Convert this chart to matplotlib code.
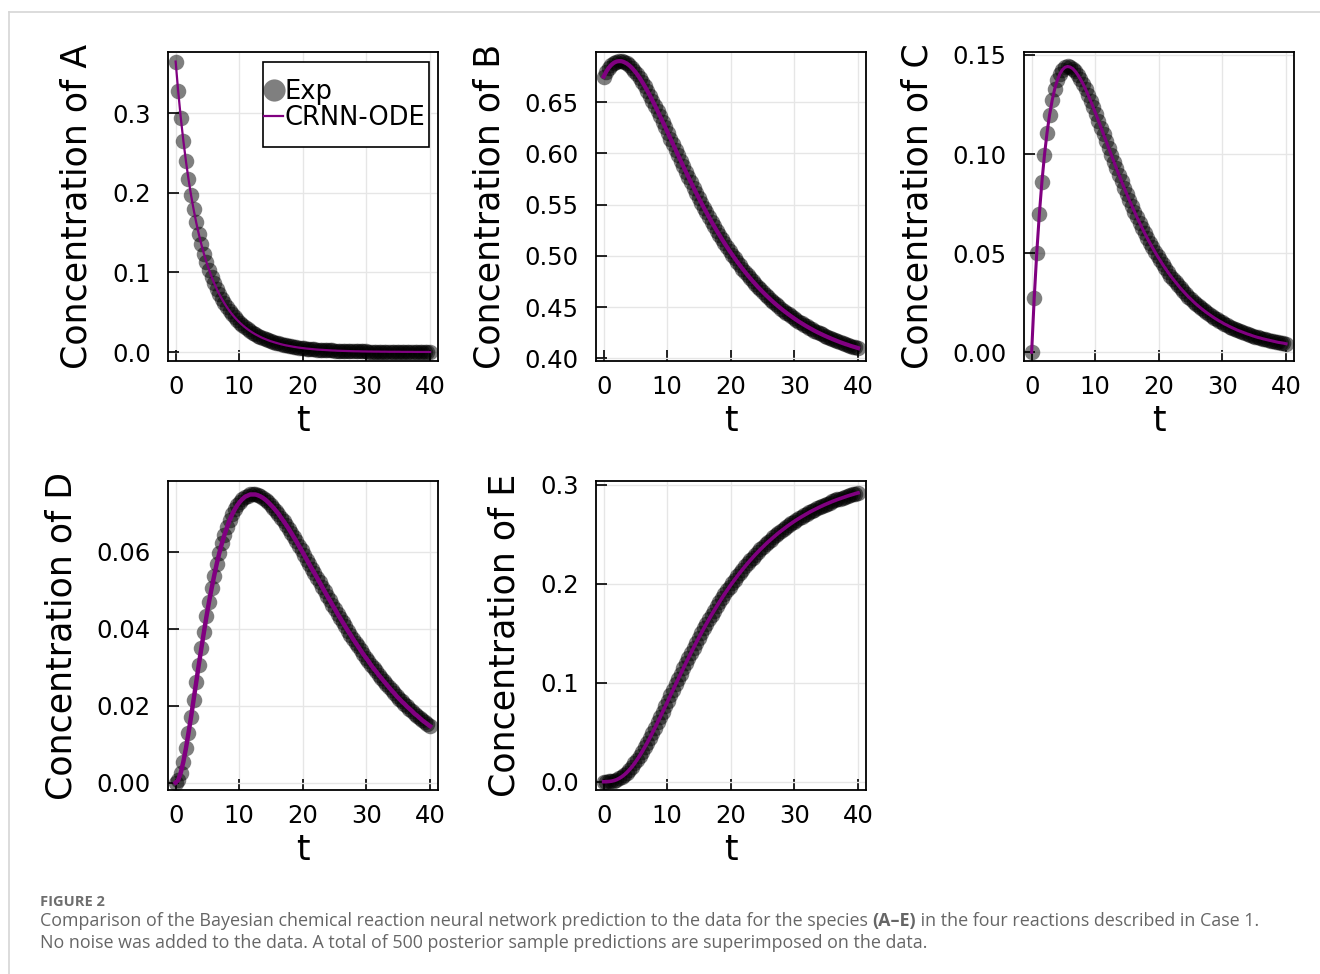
import numpy as np
import matplotlib
matplotlib.use("Agg")
import matplotlib.pyplot as plt
from matplotlib.lines import Line2D
from matplotlib.patches import Rectangle
from matplotlib.ticker import FormatStrFormatter

# sampling times (100 evenly spaced points on 0..40)
t = np.linspace(0, 40, 100)

conc_A = [0.3650, 0.3274, 0.2945, 0.2656, 0.2400, 0.2173, 0.1971, 0.1791, 0.1629, 0.1484,
          0.1353, 0.1235, 0.1128, 0.1032, 0.0944, 0.0864, 0.0792, 0.0726, 0.0666, 0.0611,
          0.0561, 0.0515, 0.0473, 0.0435, 0.0400, 0.0368, 0.0338, 0.0311, 0.0286, 0.0263,
          0.0242, 0.0223, 0.0206, 0.0189, 0.0174, 0.0161, 0.0148, 0.0136, 0.0126, 0.0116,
          0.0107, 0.0098, 0.0090, 0.0083, 0.0077, 0.0071, 0.0065, 0.0060, 0.0055, 0.0051,
          0.0047, 0.0043, 0.0040, 0.0037, 0.0034, 0.0031, 0.0029, 0.0027, 0.0025, 0.0023,
          0.0021, 0.0019, 0.0018, 0.0016, 0.0015, 0.0014, 0.0013, 0.0012, 0.0011, 0.0010,
          0.0009, 0.0009, 0.0008, 0.0007, 0.0007, 0.0006, 0.0006, 0.0005, 0.0005, 0.0005,
          0.0004, 0.0004, 0.0004, 0.0003, 0.0003, 0.0003, 0.0003, 0.0003, 0.0002, 0.0002,
          0.0002, 0.0002, 0.0002, 0.0001, 0.0001, 0.0001, 0.0001, 0.0001, 0.0001, 0.0001]

conc_B = [0.6750, 0.6798, 0.6836, 0.6865, 0.6885, 0.6897, 0.6901, 0.6900, 0.6891, 0.6878,
          0.6859, 0.6835, 0.6806, 0.6774, 0.6738, 0.6698, 0.6656, 0.6611, 0.6565, 0.6516,
          0.6466, 0.6414, 0.6361, 0.6308, 0.6254, 0.6200, 0.6145, 0.6090, 0.6036, 0.5981,
          0.5927, 0.5874, 0.5821, 0.5768, 0.5717, 0.5666, 0.5615, 0.5566, 0.5518, 0.5470,
          0.5424, 0.5378, 0.5333, 0.5290, 0.5247, 0.5206, 0.5165, 0.5125, 0.5087, 0.5049,
          0.5013, 0.4977, 0.4942, 0.4909, 0.4876, 0.4844, 0.4813, 0.4783, 0.4754, 0.4726,
          0.4698, 0.4672, 0.4646, 0.4621, 0.4597, 0.4573, 0.4550, 0.4528, 0.4507, 0.4486,
          0.4466, 0.4447, 0.4428, 0.4410, 0.4392, 0.4375, 0.4358, 0.4343, 0.4327, 0.4312,
          0.4298, 0.4284, 0.4270, 0.4257, 0.4245, 0.4233, 0.4221, 0.4210, 0.4199, 0.4188,
          0.4178, 0.4168, 0.4158, 0.4149, 0.4140, 0.4132, 0.4123, 0.4115, 0.4108, 0.4100]

conc_C = [0.0000, 0.0272, 0.0503, 0.0697, 0.0860, 0.0996, 0.1108, 0.1199, 0.1272, 0.1330,
          0.1373, 0.1405, 0.1426, 0.1438, 0.1442, 0.1439, 0.1431, 0.1417, 0.1399, 0.1378,
          0.1354, 0.1327, 0.1298, 0.1267, 0.1235, 0.1202, 0.1168, 0.1134, 0.1099, 0.1065,
          0.1030, 0.0996, 0.0962, 0.0928, 0.0895, 0.0862, 0.0830, 0.0799, 0.0768, 0.0739,
          0.0710, 0.0681, 0.0654, 0.0627, 0.0601, 0.0576, 0.0552, 0.0529, 0.0506, 0.0484,
          0.0464, 0.0443, 0.0424, 0.0405, 0.0387, 0.0370, 0.0354, 0.0338, 0.0322, 0.0308,
          0.0294, 0.0280, 0.0268, 0.0255, 0.0243, 0.0232, 0.0221, 0.0211, 0.0201, 0.0192,
          0.0183, 0.0174, 0.0166, 0.0158, 0.0151, 0.0143, 0.0137, 0.0130, 0.0124, 0.0118,
          0.0112, 0.0107, 0.0102, 0.0097, 0.0092, 0.0088, 0.0083, 0.0079, 0.0075, 0.0072,
          0.0068, 0.0065, 0.0062, 0.0059, 0.0056, 0.0053, 0.0050, 0.0048, 0.0046, 0.0043]

conc_D = [0.0000, 0.0007, 0.0026, 0.0054, 0.0089, 0.0129, 0.0171, 0.0216, 0.0261, 0.0306,
          0.0349, 0.0391, 0.0432, 0.0470, 0.0505, 0.0538, 0.0569, 0.0597, 0.0622, 0.0644,
          0.0664, 0.0682, 0.0697, 0.0710, 0.0721, 0.0730, 0.0737, 0.0743, 0.0746, 0.0749,
          0.0749, 0.0749, 0.0747, 0.0744, 0.0740, 0.0735, 0.0729, 0.0722, 0.0715, 0.0707,
          0.0699, 0.0689, 0.0680, 0.0670, 0.0660, 0.0649, 0.0638, 0.0627, 0.0615, 0.0604,
          0.0592, 0.0580, 0.0568, 0.0556, 0.0545, 0.0533, 0.0521, 0.0509, 0.0497, 0.0485,
          0.0474, 0.0462, 0.0451, 0.0439, 0.0428, 0.0417, 0.0406, 0.0395, 0.0385, 0.0374,
          0.0364, 0.0354, 0.0344, 0.0334, 0.0325, 0.0316, 0.0306, 0.0297, 0.0289, 0.0280,
          0.0272, 0.0264, 0.0256, 0.0248, 0.0240, 0.0233, 0.0225, 0.0218, 0.0211, 0.0205,
          0.0198, 0.0192, 0.0186, 0.0179, 0.0174, 0.0168, 0.0162, 0.0157, 0.0152, 0.0147]

conc_E = [0.0000, 0.0000, 0.0002, 0.0005, 0.0011, 0.0020, 0.0033, 0.0049, 0.0069, 0.0092,
          0.0120, 0.0150, 0.0184, 0.0222, 0.0262, 0.0304, 0.0349, 0.0396, 0.0445, 0.0495,
          0.0547, 0.0600, 0.0653, 0.0708, 0.0762, 0.0817, 0.0873, 0.0928, 0.0983, 0.1037,
          0.1092, 0.1145, 0.1199, 0.1251, 0.1303, 0.1354, 0.1405, 0.1454, 0.1502, 0.1550,
          0.1597, 0.1642, 0.1687, 0.1730, 0.1773, 0.1815, 0.1855, 0.1895, 0.1933, 0.1971,
          0.2008, 0.2043, 0.2078, 0.2112, 0.2144, 0.2176, 0.2207, 0.2237, 0.2266, 0.2295,
          0.2322, 0.2349, 0.2374, 0.2400, 0.2424, 0.2447, 0.2470, 0.2492, 0.2514, 0.2534,
          0.2554, 0.2574, 0.2593, 0.2611, 0.2629, 0.2646, 0.2662, 0.2678, 0.2693, 0.2708,
          0.2723, 0.2737, 0.2750, 0.2763, 0.2776, 0.2788, 0.2800, 0.2811, 0.2822, 0.2833,
          0.2843, 0.2853, 0.2862, 0.2871, 0.2880, 0.2889, 0.2897, 0.2905, 0.2913, 0.2920]

species = ["A", "B", "C", "D", "E"]
series = [conc_A, conc_B, conc_C, conc_D, conc_E]
yticks = [[0.0, 0.1, 0.2, 0.3],
          [0.40, 0.45, 0.50, 0.55, 0.60, 0.65],
          [0.00, 0.05, 0.10, 0.15],
          [0.00, 0.02, 0.04, 0.06],
          [0.0, 0.1, 0.2, 0.3]]
xticks = [0, 10, 20, 30, 40]

# layout / style
ylims = [(-0.0113, 0.377), (0.3974, 0.699), (-0.0044, 0.1515), (-0.0019, 0.0784), (-0.0084, 0.304)]
yfmt = ["%.1f", "%.2f", "%.2f", "%.2f", "%.1f"]
line_w = [1.6, 3.0, 2.2, 3.2, 2.6]
W, H = 1320, 974
boxes = [(168, 52), (596, 52), (1024, 52), (168, 481), (596, 481)]  # left, top in px
aw, ah = 270, 309

fig = plt.figure(figsize=(W / 100, H / 100), dpi=100)

for i in range(5):
    left, top = boxes[i]
    ax = fig.add_axes([left / W, (H - top - ah) / H, aw / W, ah / H])
    ax.set_axisbelow(True)
    ax.grid(True, color="#e6e6e6", lw=1.0)
    ax.scatter(t, series[i], s=125, color="black", alpha=0.5, linewidths=0, zorder=2)
    ax.plot(t, series[i], color="purple", lw=line_w[i], zorder=3)
    ax.set_xlim(-1.2, 41.25)
    ax.set_ylim(*ylims[i])
    ax.set_xticks(xticks)
    ax.set_yticks(yticks[i])
    ax.yaxis.set_major_formatter(FormatStrFormatter(yfmt[i]))
    ax.tick_params(axis="both", direction="in", length=8, width=1.2, labelsize=17.5,
                   top=False, right=False)
    ax.tick_params(axis="x", pad=10)
    ax.tick_params(axis="y", pad=12.5)
    for sp in ax.spines.values():
        sp.set_linewidth(1.3)
    ax.set_xlabel("t", fontsize=25, labelpad=4)
    ax.set_ylabel("Concentration of " + species[i], fontsize=25, labelpad=13)
    if i == 0:
        # legend box drawn as its own rectangle, entries placed inside it
        ax.add_patch(Rectangle((0.352, 0.6926), 0.6147, 0.275, transform=ax.transAxes,
                               facecolor="white", edgecolor="black", lw=1.2, zorder=5))
        h1 = Line2D([], [], ls="none", marker="o", markersize=16, color="black",
                    alpha=0.5, markeredgewidth=0)
        h2 = Line2D([], [], color="purple", lw=1.6)
        leg = ax.legend([h1, h2], ["Exp", "CRNN-ODE"], loc="center left",
                        bbox_to_anchor=(0.3556, 0.83), borderaxespad=0, fontsize=18.5,
                        frameon=False, handlelength=0.75, handletextpad=0.05,
                        labelspacing=0.0, borderpad=0)
        leg.set_zorder(6)

# page frame lines
fig.add_artist(Line2D([9 / W, 1], [1 - 11.5 / H, 1 - 11.5 / H], color="#d6d6d6", lw=1.2))
fig.add_artist(Line2D([9 / W, 9 / W], [0, 1 - 11.5 / H], color="#d6d6d6", lw=1.2))

# caption
cap_font = ["Open Sans", "DejaVu Sans"]
fig.text(40 / W, 1 - 906.5 / H, "FIGURE 2", fontsize=10.5, fontweight="bold",
         color="#6e6e6e", family=cap_font, va="baseline")
fig.canvas.draw()
renderer = fig.canvas.get_renderer()
x0 = 40
parts = [("Comparison of the Bayesian chemical reaction neural network prediction to the data for the species ", "normal"),
         ("(A\u2013E)", "bold"),
         (" in the four reactions described in Case 1.", "normal")]
for txt, wt in parts:
    tx = fig.text(x0 / W, 1 - 926 / H, txt, fontsize=12.9, fontweight=wt,
                  color="#666666", family=cap_font, va="baseline")
    x0 = tx.get_window_extent(renderer).x1
fig.text(40 / W, 1 - 948.3 / H,
         "No noise was added to the data. A total of 500 posterior sample predictions are superimposed on the data.",
         fontsize=12.9, color="#666666", family=cap_font, va="baseline")

fig.savefig("out.png", dpi=100)
